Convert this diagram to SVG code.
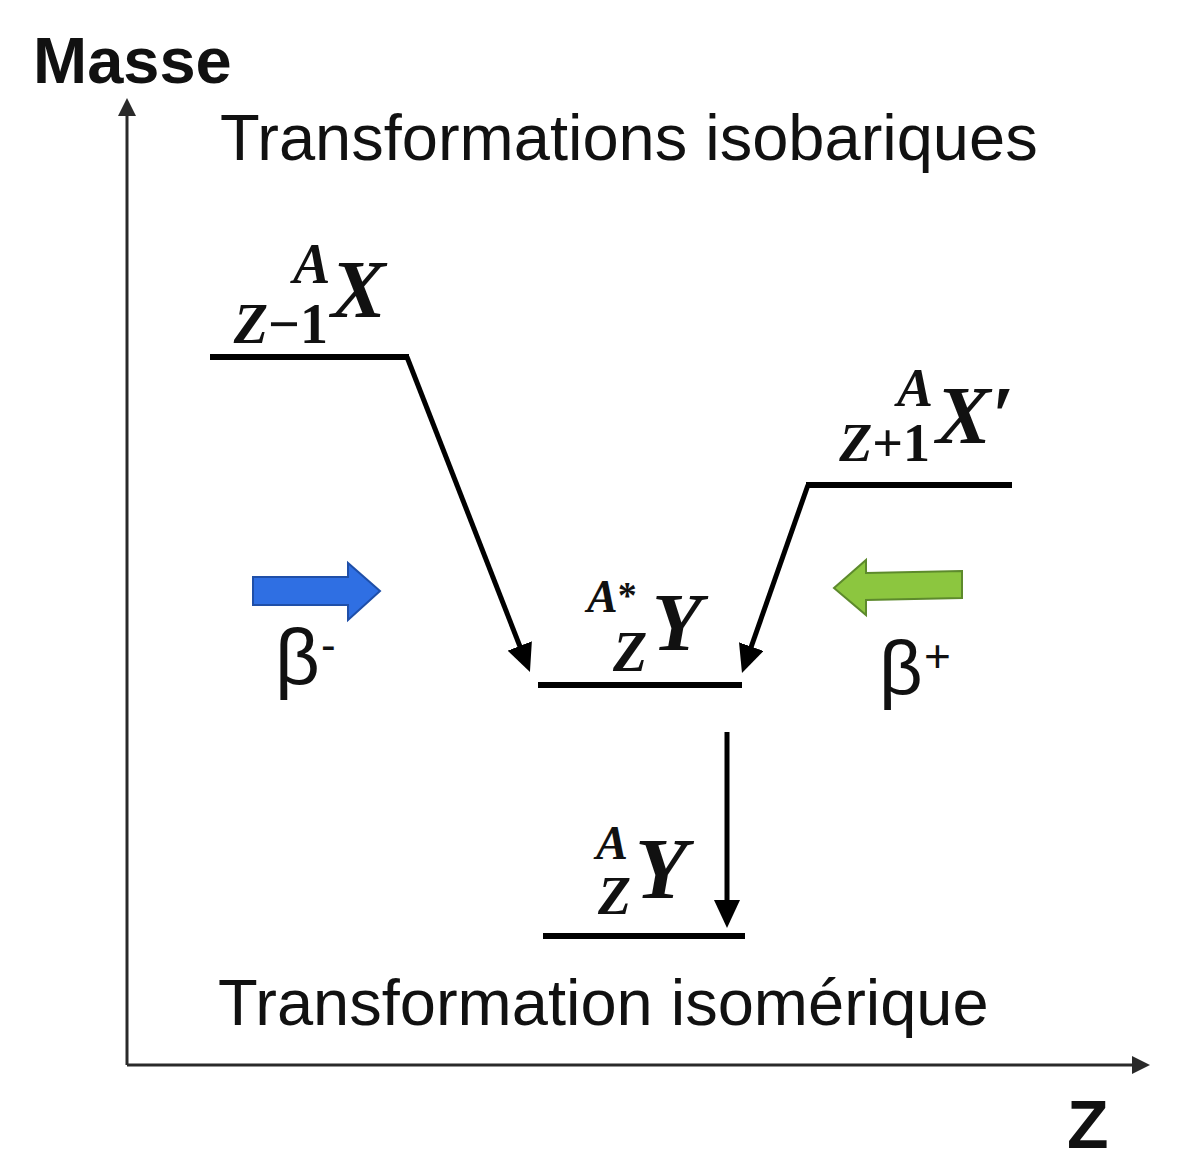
<svg xmlns="http://www.w3.org/2000/svg" width="1199" height="1167" viewBox="0 0 1199 1167">
<defs>
<style>
.axis{stroke:#2a2a2a;stroke-width:3;fill:none}
.level{stroke:#000;stroke-width:6;stroke-linecap:butt}
.conn{stroke:#000;stroke-width:5;fill:none}
.sans{font-family:"Liberation Sans",Arial,sans-serif;fill:#111}
.math{font-family:"Liberation Serif","Times New Roman",serif;font-weight:bold;font-style:italic;fill:#111}
.up{font-style:normal}
</style>
<marker id="ah" viewBox="0 0 28 26" refX="2" refY="13" markerWidth="28" markerHeight="26" markerUnits="userSpaceOnUse" orient="auto">
<path d="M0,0 L28,13 L0,26 z" fill="#000"/>
</marker>
<marker id="axh" viewBox="0 0 18 18" refX="1" refY="9" markerWidth="18" markerHeight="18" markerUnits="userSpaceOnUse" orient="auto">
<path d="M0,0 L18,9 L0,18 z" fill="#2a2a2a"/>
</marker>
</defs>
<rect width="1199" height="1167" fill="#fff"/>

<g id="axes">
<line class="axis" x1="127" y1="1065" x2="127" y2="115" marker-end="url(#axh)"/>
<line class="axis" x1="127" y1="1065" x2="1133" y2="1065" marker-end="url(#axh)"/>
<text class="sans" x="33" y="83" font-size="65" font-weight="bold">Masse</text>
<text class="sans" x="1067" y="1148" font-size="68" font-weight="bold">Z</text>
</g>

<text class="sans" x="220" y="160" font-size="65">Transformations isobariques</text>
<text class="sans" x="218" y="1025" font-size="65">Transformation isomérique</text>

<g id="level-X">
<line class="level" x1="210" y1="357" x2="409" y2="357"/>
<text class="math" x="293" y="283" font-size="56">A</text>
<text class="math" x="331" y="317" font-size="82">X</text>
<text class="math" x="328" y="343" font-size="56" text-anchor="end">Z<tspan class="up">−1</tspan></text>
</g>

<g id="level-Xp">
<line class="level" x1="806" y1="485" x2="1012" y2="485"/>
<text class="math" x="897" y="406" font-size="54">A</text>
<text class="math" x="936" y="443" font-size="82">X′</text>
<text class="math" x="930" y="461" font-size="54" text-anchor="end">Z<tspan class="up">+1</tspan></text>
</g>

<g id="level-Ystar">
<line class="level" x1="538" y1="685" x2="742" y2="685"/>
<text class="math" x="587" y="612" font-size="46">A<tspan class="up" font-size="38" dy="-4">*</tspan></text>
<text class="math" x="652" y="650" font-size="82">Y</text>
<text class="math" x="613" y="671" font-size="56">Z</text>
</g>

<g id="level-Y">
<line class="level" x1="543" y1="936" x2="745" y2="936"/>
<text class="math" x="596" y="859" font-size="48">A</text>
<text class="math" x="635" y="898" font-size="86">Y</text>
<text class="math" x="598" y="914" font-size="54">Z</text>
</g>

<g id="beta-minus">
<polygon points="253,577 348,577 348,563 380,591 348,620 348,605 253,605" fill="#2f6fe3" stroke="#1f4fa8" stroke-width="2"/>
<text class="sans" x="275" y="684" font-size="78">β</text>
<text class="sans" x="321" y="660" font-size="44">-</text>
</g>

<g id="beta-plus">
<polygon points="962,571 866,573 866,560 834,588 866,615 866,600 962,598" fill="#8cc63f" stroke="#5d8a2c" stroke-width="2"/>
<text class="sans" x="879" y="694" font-size="76">β</text>
<text class="sans" x="924" y="672" font-size="46">+</text>
</g>

<g id="connectors">
<path class="conn" d="M407,357 L520.5,647.8" marker-end="url(#ah)"/>
<path class="conn" d="M808,485 L750.6,648.5" marker-end="url(#ah)"/>
<path class="conn" d="M727,732 L727,902" marker-end="url(#ah)"/>
</g>
</svg>
